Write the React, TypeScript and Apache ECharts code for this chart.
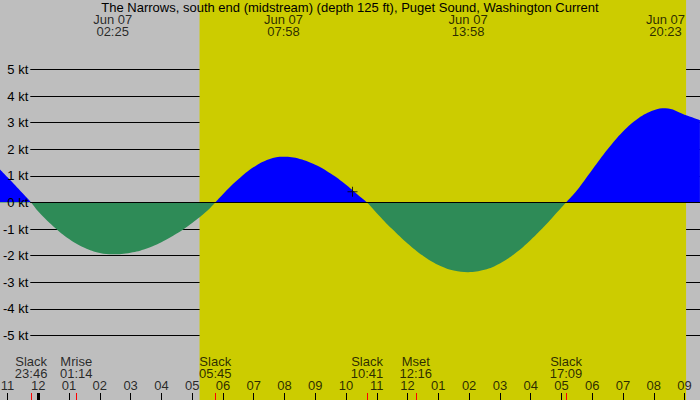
import React, { useEffect, useRef } from "react";
import * as echarts from "echarts";

// ---- data ----
const TITLE =
  "The Narrows, south end (midstream) (depth 125 ft), Puget Sound, Washington Current";

// hours after midnight, Jun 07
const HOURS = [
  -1.25, -1.0, -0.5, -0.233, 0, 0.5, 1.0, 1.5, 2.0, 2.417, 3.0, 3.5, 4.0, 4.5,
  5.0, 5.5, 5.75, 6.0, 6.5, 7.0, 7.5, 7.967, 8.5, 9.0, 9.5, 10.0, 10.5, 10.683,
  11.0, 11.5, 12.0, 12.5, 13.0, 13.5, 13.967, 14.5, 15.0, 15.5, 16.0, 16.5,
  17.0, 17.15, 17.5, 18.0, 18.5, 19.0, 19.5, 20.0, 20.383, 21.0, 21.5,
];
// current speed, knots (+ flood, - ebb)
const SPEED = [
  1.25, 0.95, 0.34, 0, -0.34, -0.91, -1.37, -1.7, -1.9, -1.95, -1.89, -1.74,
  -1.49, -1.17, -0.77, -0.3, 0, 0.31, 0.87, 1.33, 1.63, 1.72, 1.64, 1.42, 1.09,
  0.67, 0.18, 0, -0.4, -1.0, -1.54, -2.0, -2.35, -2.56, -2.62, -2.53, -2.29,
  -1.91, -1.41, -0.83, -0.19, 0, 0.45, 1.23, 2.0, 2.67, 3.17, 3.47, 3.54, 3.3,
  3.1,
];

const HOUR_TICKS = [
  -1, 0, 1, 2, 3, 4, 5, 6, 7, 8, 9, 10, 11, 12, 13, 14, 15, 16, 17, 18, 19, 20, 21,
];

const EXT_DATE = "Jun 07";
const EXT_HOURS = [2.417, 7.967, 13.967, 20.383];
const EXT_TIMES = ["02:25", "07:58", "13:58", "20:23"];

const EVENT_NAMES = ["Slack", "Mrise", "Slack", "Slack", "Mset", "Slack"];
const EVENT_TIMES = ["23:46", "01:14", "05:45", "10:41", "12:16", "17:09"];
const EVENT_HOURS = [-0.233, 1.233, 5.75, 10.683, 12.267, 17.15];

const MIDNIGHT = 0;
const SUNRISE = 5.24;
const SUNSET = 21.05;
const NOW = [10.21, 0.4];

const KT_MIN = -5;
const KT_MAX = 5;

// ---- styles / layout ----
const FONT = "Liberation Sans";
const GRAY = "#bebebe";
const YELLOW = "#cccc00";
const BLUE = "#0000ff";
const GREEN = "#2e8b57";
const PX_PER_H = 30.773;
const X_ZERO = 38.3;
const H_LEFT = (0 - X_ZERO) / PX_PER_H;
const H_RIGHT = (700 - X_ZERO) / PX_PER_H;
const PLOT_TOP = 69.5;
const PLOT_BOTTOM = 64.5;
const HOUR_LABEL_Y = 385.5;
const EVENT_LABEL_Y = 367.5;
const EXT_LABEL_Y = 25.8;
const ZERO_FRAC = KT_MAX / (KT_MAX - KT_MIN);

const hourLabel = (h: number) => {
  const m = (((Math.round(h) % 12) + 12) % 12);
  return String(m === 0 ? 12 : m).padStart(2, "0");
};

const txt = { fontFamily: FONT, fontSize: 13, color: "#000" };

const labelSeries = (xs: number[], y: number, fmt: (i: number) => string, z = 7) => ({
  type: "scatter",
  xAxisIndex: 0,
  yAxisIndex: 0,
  z,
  silent: true,
  symbolSize: 1,
  itemStyle: { color: "transparent" },
  data: xs.map((h) => [h, y]),
  label: {
    show: true,
    position: "inside",
    lineHeight: 12,
    ...txt,
    formatter: (p: any) => fmt(p.dataIndex),
  },
});

export default function App() {
  const ref = useRef<HTMLDivElement>(null);
  useEffect(() => {
    if (!ref.current) return;
    const chart = echarts.init(ref.current, undefined, { renderer: "svg" });
    const hx = { type: "value", min: H_LEFT, max: H_RIGHT };
    const fill = {
      type: "linear",
      x: 0,
      y: PLOT_TOP,
      x2: 0,
      y2: 400 - PLOT_BOTTOM,
      global: true,
      colorStops: [
        { offset: 0, color: BLUE },
        { offset: ZERO_FRAC, color: BLUE },
        { offset: ZERO_FRAC, color: GREEN },
        { offset: 1, color: GREEN },
      ],
    };
    const option: any = {
      animation: false,
      backgroundColor: GRAY,
      title: {
        text: TITLE,
        left: "center",
        top: 1,
        padding: 0,
        textStyle: { ...txt, fontWeight: "normal" },
      },
      grid: [
        { left: 0, right: 0, top: 0, bottom: 0 },
        { left: 0, right: 0, top: PLOT_TOP, bottom: PLOT_BOTTOM },
        { left: 30, right: 0, top: PLOT_TOP, bottom: PLOT_BOTTOM },
        { left: 0, right: 0, top: 393, bottom: 0 },
      ],
      xAxis: [
        { gridIndex: 0, ...hx, show: false },
        { gridIndex: 1, ...hx, show: false },
        { gridIndex: 2, type: "value", min: 0, max: 1, show: false },
        { gridIndex: 3, ...hx, show: false },
      ],
      yAxis: [
        { gridIndex: 0, type: "value", min: 0, max: 400, inverse: true, show: false },
        { gridIndex: 1, type: "value", min: KT_MIN, max: KT_MAX, show: false },
        {
          gridIndex: 2,
          type: "value",
          position: "left",
          min: KT_MIN,
          max: KT_MAX,
          interval: 1,
          z: 1,
          axisLine: { show: false },
          axisTick: { show: false },
          axisLabel: { show: false },
          splitLine: { show: true, lineStyle: { color: "#000", width: 1 } },
        },
        {
          gridIndex: 2,
          type: "value",
          position: "left",
          min: KT_MIN,
          max: KT_MAX,
          interval: 1,
          z: 10,
          axisLine: { show: false },
          axisTick: { show: false },
          splitLine: { show: false },
          axisLabel: { margin: 2, formatter: (v: number) => `${v} kt`, ...txt },
        },
        { gridIndex: 3, type: "value", min: 0, max: 1, show: false },
      ],
      series: [
        {
          type: "line",
          xAxisIndex: 0,
          yAxisIndex: 0,
          z: 0,
          silent: true,
          symbol: "none",
          lineStyle: { width: 0 },
          data: [[SUNRISE, 0]],
          markArea: {
            silent: true,
            itemStyle: { color: YELLOW, opacity: 1 },
            data: [[{ xAxis: SUNRISE }, { xAxis: SUNSET }]],
          },
        },
        {
          type: "line",
          xAxisIndex: 1,
          yAxisIndex: 1,
          z: 2,
          silent: true,
          symbol: "none",
          smooth: 0.4,
          lineStyle: { width: 0 },
          areaStyle: { opacity: 1, color: fill },
          data: HOURS.map((h, i) => [h, SPEED[i]]),
        },
        {
          type: "line",
          xAxisIndex: 2,
          yAxisIndex: 2,
          z: 3,
          silent: true,
          symbol: "none",
          lineStyle: { width: 0 },
          data: [[0, 0]],
          markLine: {
            silent: true,
            symbol: ["none", "none"],
            label: { show: false },
            lineStyle: { color: "#000", width: 1, type: "solid" },
            data: [{ yAxis: 0 }],
          },
        },
        {
          type: "scatter",
          xAxisIndex: 1,
          yAxisIndex: 1,
          z: 5,
          silent: true,
          symbol: "path://M0,4.5H10V5.5H0ZM4.5,0H5.5V10H4.5Z",
          symbolSize: 10,
          itemStyle: { color: "#000" },
          data: [NOW],
        },
        {
          type: "line",
          xAxisIndex: 3,
          yAxisIndex: 4,
          z: 6,
          silent: true,
          symbol: "none",
          lineStyle: { width: 0 },
          data: [[MIDNIGHT, 0]],
          markLine: {
            silent: true,
            symbol: ["none", "none"],
            label: { show: false },
            data: [
              ...HOUR_TICKS.map((h) => ({
                xAxis: h,
                lineStyle: { color: "#000", width: 1, type: "solid" },
              })),
              { xAxis: MIDNIGHT, lineStyle: { color: "#000", width: 3, type: "solid" } },
              ...EVENT_HOURS.map((h) => ({
                xAxis: h,
                lineStyle: { color: "#ff0000", width: 1, type: "solid" },
              })),
            ],
          },
        },
        labelSeries(HOUR_TICKS, HOUR_LABEL_Y, (i) => hourLabel(HOUR_TICKS[i])),
        labelSeries(
          EVENT_HOURS,
          EVENT_LABEL_Y,
          (i) => `${EVENT_NAMES[i]}\n${EVENT_TIMES[i]}`
        ),
        labelSeries(EXT_HOURS, EXT_LABEL_Y, (i) => `${EXT_DATE}\n${EXT_TIMES[i]}`),
      ],
    };
    chart.setOption(option);
    return () => chart.dispose();
  }, []);
  return (
    <div
      ref={ref}
      style={{ position: "fixed", left: 0, top: 0, width: 700, height: 400 }}
    />
  );
}
